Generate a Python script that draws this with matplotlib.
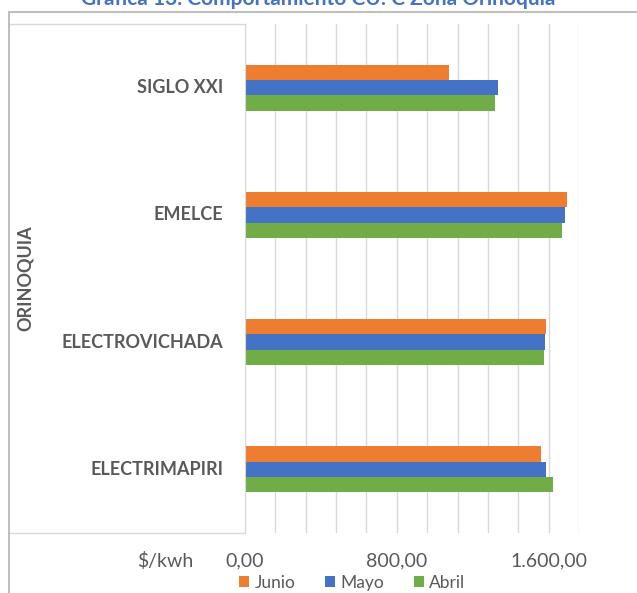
import numpy as np
import matplotlib.pyplot as plt
from matplotlib.lines import Line2D

# CU values ($/kwh) per company, Orinoquia zone
empresas = ["SIGLO XXI", "EMELCE", "ELECTROVICHADA", "ELECTRIMAPIRI"]
junio = [1075, 1697, 1588, 1561]
mayo = [1332, 1684, 1581, 1588]
abril = [1318, 1670, 1576, 1623]
x_ticks = [0, 800, 1600]
x_labels = ["0,00", "800,00", "1.600,00"]

plt.rcParams["font.family"] = ["Lato", "DejaVu Sans"]
grey = "#595959"
line_grey = "#d9d9d9"

W, H = 637, 593
fig = plt.figure(figsize=(W / 100, H / 100), dpi=100)

# plot area in pixels: x 245..579, y 24..533
left, right, top, bottom = 245, 579, 24, 533
ax = fig.add_axes([left / W, 1 - bottom / H, (right - left) / W, (bottom - top) / H])

y = np.arange(len(empresas))
h = 0.121
ax.barh(y - h, junio, height=h, color="#ED7D31", label="Junio")
ax.barh(y, mayo, height=h, color="#4472C4", label="Mayo")
ax.barh(y + h, abril, height=h, color="#70AD47", label="Abril")

ax.set_xlim(0, 1760)
ax.set_ylim(3.5, -0.5)
ax.set_xticks(x_ticks)
ax.set_xticklabels(x_labels, color=grey, fontsize=14)
ax.set_xticks(np.arange(0, 1761, 160), minor=True)
ax.set_yticks([])
ax.tick_params(axis="x", which="both", length=0, pad=14)
ax.grid(axis="x", which="both", color=line_grey, linewidth=1)
ax.set_axisbelow(True)
for s in ["top", "right", "bottom"]:
    ax.spines[s].set_visible(False)
ax.spines["left"].set_color(line_grey)

# category labels
pw = right - left
for yi, name in zip(y, empresas):
    ax.text(-22 / pw, yi, name, transform=ax.get_yaxis_transform(), ha="right",
            va="center", fontsize=13, fontweight="bold", color=grey)
ax.text(-220 / pw, 0.5, "ORINOQUIA", transform=ax.transAxes, rotation=90,
        ha="center", va="center", fontsize=13, fontweight="bold", color=grey)

# category axis box and chart frame
def px(xp, yp):
    return xp / W, 1 - yp / H

for yp in (top, bottom):
    (x0, y0), (x1, y1) = px(10, yp), px(left, yp)
    fig.add_artist(Line2D([x0, x1], [y0, y1], color=line_grey, lw=1))
(x0, y0), (x1, y1) = px(9, 12), px(9, H)
fig.add_artist(Line2D([x0, x1], [y0, y1], color="#bfbfbf", lw=1.5))
(x0, y0), (x1, y1) = px(9, 12), px(W, 12)
fig.add_artist(Line2D([x0, x1], [y0, y1], color="#bfbfbf", lw=1.5))

fig.text(193 / W, 1 - 561 / H, "$/kwh", ha="right", va="center", fontsize=14, color=grey)

fig.text(0.5, 1 - 5 / H, "Gráfica 13. Comportamiento CU: C Zona Orinoquia",
         ha="center", va="baseline", fontsize=15, fontweight="bold", color="#4472C4")

fig.legend(loc="center", bbox_to_anchor=(352 / W, 1 - 583 / H), ncol=3, frameon=False,
           fontsize=12.5, labelcolor=grey, handlelength=0.6, handleheight=0.6,
           handletextpad=0.3, columnspacing=1.7, borderpad=0)

fig.savefig("out.png", dpi=100)
